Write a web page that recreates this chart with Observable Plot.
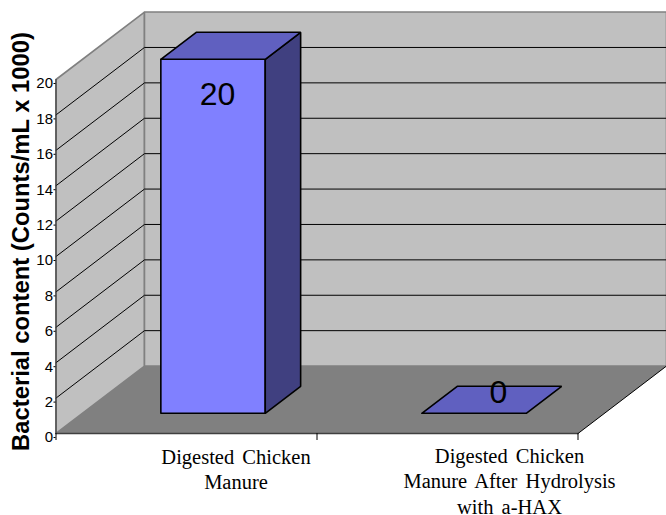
<!DOCTYPE html>
<html>
<head>
<meta charset="utf-8">
<script src="https://cdn.jsdelivr.net/npm/d3@7"></script>
<script src="https://cdn.jsdelivr.net/npm/@observablehq/plot@0.6"></script>
<style>
html,body{margin:0;padding:0;background:#fff;}
svg{display:block;overflow:visible;}
.cat text{word-spacing:3px;}
</style>
</head>
<body>
<script>
const categories = ["Digested Chicken\nManure", "Digested Chicken\nManure After Hydrolysis\nwith a-HAX"];
const values = [20, 0];
const yTicks = [0, 2, 4, 6, 8, 10, 12, 14, 16, 18, 20];
const gridValues = [2, 4, 6, 8, 10, 12, 14, 16, 18];
const yTitle = "Bacterial content (Counts/mL x 1000)";

// oblique depth of the 3-D box, in scale units
const depthX = 0.339, depthY = 3.81, yMax = 20;
const pt = (u, d, v) => ({x: u + d * depthX, y: v + d * depthY});
const poly = (corners) => [...corners, corners[0]].map(([u, d, v]) => pt(u, d, v));
const face = (corners, options) => Plot.line(poly(corners), {x: "x", y: "y", curve: "linear", strokeLinejoin: "miter", ...options});

const wallGray = "#c0c0c0", floorGray = "#808080";
const rightEnd = 2;

const gridData = gridValues.flatMap(v => [
  {...pt(0, 0, v), v}, {...pt(0, 1, v), v}, {...pt(rightEnd, 1, v), v}
]);

const barMarks = [];
values.forEach((v, i) => {
  const u0 = i + 0.3, u1 = i + 0.7, d0 = 0.3, d1 = 0.7;
  if (v > 0) {
    barMarks.push(face([[u0,d0,0],[u1,d0,0],[u1,d0,v],[u0,d0,v]], {fill: "#8080ff", stroke: "#000", strokeWidth: 1.6}));
    barMarks.push(face([[u1,d0,0],[u1,d1,0],[u1,d1,v],[u1,d0,v]], {fill: "#404080", stroke: "#000", strokeWidth: 1.6}));
  }
  barMarks.push(face([[u0,d0,v],[u1,d0,v],[u1,d1,v],[u0,d1,v]], {fill: "#6060c0", stroke: "#000", strokeWidth: 1.6}));
});

const chart = Plot.plot({
  width: 666,
  height: 515,
  marginLeft: 55.5,
  marginRight: 88.5,
  marginTop: 79,
  marginBottom: 82,
  style: {background: "#fff", overflow: "visible"},
  x: {type: "linear", domain: [0, 2], axis: null},
  y: {type: "linear", domain: [0, yMax], axis: null},
  marks: [
    // walls and floor
    face([[0,0,0],[0,1,0],[0,1,yMax],[0,0,yMax]], {fill: wallGray, stroke: floorGray, strokeWidth: 1.6}),
    face([[0,1,0],[rightEnd,1,0],[rightEnd,1,yMax],[0,1,yMax]], {fill: wallGray, stroke: floorGray, strokeWidth: 1.6}),
    face([[0,0,0],[rightEnd,0,0],[rightEnd,1,0],[0,1,0]], {fill: floorGray}),
    Plot.line(gridData, {x: "x", y: "y", z: "v", stroke: "#000", strokeWidth: 1, curve: "linear"}),
    Plot.line(poly([[rightEnd,0,0],[rightEnd,1,0]]).slice(0,2), {x: "x", y: "y", stroke: "#000", strokeWidth: 1}),
    Plot.line(poly([[0,0,0],[rightEnd,0,0]]).slice(0,2), {x: "x", y: "y", stroke: "#404040", strokeWidth: 1.6}),
    Plot.ruleX([0], {y1: 0, y2: yMax, stroke: "#404040", strokeWidth: 1.2}),
    // axes
    Plot.axisY({ticks: yTicks, anchor: "left", tickSize: 2, tickPadding: 1, fontSize: 15, fontFamily: "Liberation Sans", dy: 4, fill: "#000", stroke: "#000", strokeWidth: 1, label: null, tickFormat: d => String(d)}),
    Plot.axisX({ticks: [0, 1, 2], anchor: "bottom", tickSize: 7, tickFormat: () => "", label: null, stroke: "#000", strokeWidth: 1}),
    // bars
    ...barMarks,
    // value labels
    Plot.text([values[0]], {x: () => 0 + 0.5, y: d => d, text: d => String(d), dx: 31, dy: 15, fontSize: 32, fontFamily: "Liberation Sans", fill: "#000"}),
    Plot.text([values[1]], {x: () => 1 + 0.5, y: d => d, text: d => String(d), dx: 51, dy: -41, fontSize: 32, fontFamily: "Liberation Sans", fill: "#000"}),
    // category labels
    Plot.text([categories[0]], {className: "cat", x: () => 0.5, y: () => 0, text: d => d, dx: 49.5, dy: 12, lineAnchor: "top", lineHeight: 1.25, fontSize: 20.5, fontFamily: "Liberation Serif", fill: "#000"}),
    Plot.text([categories[1]], {className: "cat", x: () => 1.5, y: () => 0, text: d => d, dx: 62, dy: 11, lineAnchor: "top", lineHeight: 1.25, fontSize: 20.5, fontFamily: "Liberation Serif", fill: "#000"}),
    // y title
    Plot.text([yTitle], {frameAnchor: "left", textAnchor: "middle", text: d => d, rotate: -90, dx: -34.5, dy: -15, fontSize: 23.8, fontWeight: "bold", fontFamily: "Liberation Sans", fill: "#000"})
  ]
});
document.body.appendChild(chart);
</script>
</body>
</html>
